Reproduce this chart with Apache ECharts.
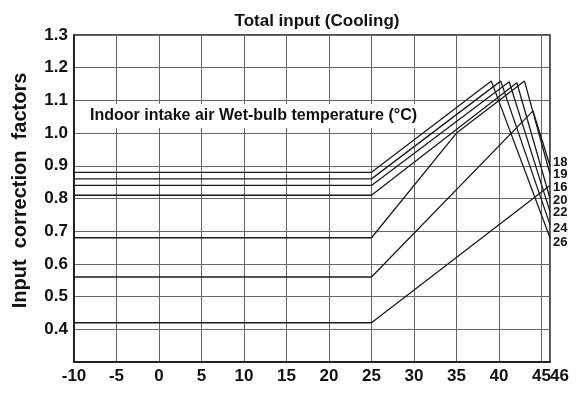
<!DOCTYPE html>
<html>
<head>
<meta charset="utf-8">
<script src="https://cdn.jsdelivr.net/npm/echarts@6/dist/echarts.min.js"></script>
<style>
  html, body { margin: 0; padding: 0; background: #fff; }
  #chart { width: 579px; height: 393px; }
</style>
</head>
<body>
<div id="chart"></div>
<script>
// indoor wet-bulb temperature of each curve
const wbTemps = ['26', '24', '22', '20', '19', '18', '16']

// [outdoor temp, input factor] break points of each curve
const curve26 = [[-10, 0.88], [25, 0.88], [39.1, 1.159], [46, 0.68]]
const curve24 = [[-10, 0.86], [25, 0.86], [40.2, 1.159], [46, 0.72]]
const curve22 = [[-10, 0.84], [25, 0.84], [41.2, 1.157], [46, 0.76]]
const curve20 = [[-10, 0.81], [25, 0.81], [42.1, 1.154], [46, 0.80]]
const curve19 = [[-10, 0.68], [25, 0.68], [35, 1.0], [43.0, 1.159], [46, 0.875]]
const curve18 = [[-10, 0.56], [25, 0.56], [44.0, 1.068], [46, 0.90]]
const curve16 = [[-10, 0.42], [25, 0.42], [46, 0.84]]

const curves = [curve26, curve24, curve22, curve20, curve19, curve18, curve16]

// axis range, the odd last tick gets its own label
const xRange = [-10, 46]
const xEndTick = [46]
const yRange = [0.3, 1.3]

// little nudges so the end labels don't collide
const endLabelDy = { '26': 5, '24': 4, '22': 1, '20': 2, '19': 0.5, '18': -3, '16': 2 }

const font = "'Liberation Sans', Arial, sans-serif"
const labelStyle = { color: '#111', fontFamily: font, fontSize: 17, fontWeight: 'bold' }

let myChart = echarts.init(document.getElementById('chart'))
myChart.setOption({
  animation: false,
  title: {
    text: 'Total input (Cooling)',
    left: 312,
    textAlign: 'center',
    top: 8,
    textStyle: { fontFamily: font, fontSize: 17, fontWeight: 'bold', color: '#111' }
  },
  grid: {
    left: 74, top: 35, width: 476, height: 327,
    show: true, borderColor: '#111', borderWidth: 1.5, backgroundColor: 'transparent'
  },
  xAxis: [{
    type: 'value',
    position: 'bottom',
    min: xRange[0], max: xRange[1], interval: 5,
    axisLine: { onZero: false, lineStyle: { color: '#111', width: 1.5 } },
    axisTick: { show: false },
    splitLine: { lineStyle: { color: '#666', width: 1 } },
    axisLabel: Object.assign({ showMaxLabel: false, margin: 6 }, labelStyle)
  }, {
    // only carries the "46" label, set just right of the last line
    type: 'value',
    position: 'bottom',
    min: xRange[0], max: xRange[1],
    axisLine: { show: false, onZero: false },
    axisTick: { show: false },
    splitLine: { show: false },
    axisLabel: Object.assign({ customValues: xEndTick, align: 'left', margin: 6 }, labelStyle)
  }],
  yAxis: {
    type: 'value',
    min: yRange[0], max: yRange[1], interval: 0.1,
    name: 'Input  correction  factors',
    nameLocation: 'middle', nameGap: 44,
    nameTextStyle: { fontFamily: font, fontSize: 20, fontWeight: 'bold', color: '#111', padding: [0, 0, 0, 16] },
    axisLine: { show: true, onZero: false, lineStyle: { color: '#111', width: 1.5 } },
    axisTick: { show: false },
    splitLine: { lineStyle: { color: '#666', width: 1 } },
    axisLabel: Object.assign({ showMinLabel: false, formatter: v => v.toFixed(1), margin: 6 }, labelStyle)
  },
  graphic: [{
    type: 'text',
    z: 100,
    left: 86, top: 104,
    style: {
      text: 'Indoor intake air Wet-bulb temperature (°C)',
      fontFamily: font, fontSize: 16, fontWeight: 'bold',
      fill: '#111', backgroundColor: '#fff', padding: [4, 4]
    }
  }],
  series: curves.map((pts, i) => ({
    name: wbTemps[i],
    type: 'line',
    data: pts,
    symbol: 'none',
    lineStyle: { color: '#1a1a1a', width: 1.3 },
    endLabel: {
      show: true,
      formatter: '{a}',
      distance: 3,
      offset: [0, endLabelDy[wbTemps[i]]],
      color: '#111', fontFamily: font, fontSize: 13, fontWeight: 'bold'
    }
  }))
})
</script>
</body>
</html>
